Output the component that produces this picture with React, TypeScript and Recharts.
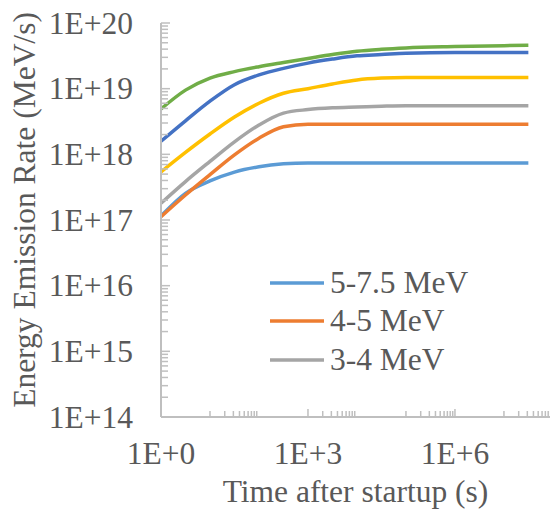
import { LineChart, Line, XAxis, YAxis, Legend, Label } from "recharts";

// time after startup (s)
const times = [1, 3.16, 10, 31.6, 100, 316, 1e3, 3.16e3, 1e4, 3.16e4, 1e5, 1e6, 1e7, 3.15e7];

// energy emission rate (MeV/s)
const mev5to75 = [1.15e17, 2.55e17, 3.94e17, 5.37e17, 6.46e17, 7.16e17, 7.4e17, 7.4e17, 7.4e17, 7.4e17, 7.4e17, 7.4e17, 7.4e17, 7.4e17];
const mev4to5 = [1.12e17, 2.4e17, 4.9e17, 9.8e17, 1.76e18, 2.63e18, 2.88e18, 2.88e18, 2.88e18, 2.88e18, 2.88e18, 2.88e18, 2.88e18, 2.88e18];
const mev3to4 = [1.8e17, 3.85e17, 7.8e17, 1.55e18, 2.8e18, 4.25e18, 4.8e18, 5.1e18, 5.25e18, 5.4e18, 5.5e18, 5.5e18, 5.5e18, 5.5e18];
const yellowSeries = [5.4e17, 1.07e18, 2.04e18, 3.7e18, 6.0e18, 8.5e18, 1.0e19, 1.18e19, 1.36e19, 1.45e19, 1.48e19, 1.48e19, 1.48e19, 1.48e19];
const darkBlueSeries = [1.58e18, 3.24e18, 6.46e18, 1.15e19, 1.62e19, 2.04e19, 2.45e19, 2.82e19, 3.16e19, 3.31e19, 3.47e19, 3.55e19, 3.55e19, 3.55e19];
const greenSeries = [4.9e18, 9.5e18, 1.45e19, 1.82e19, 2.16e19, 2.5e19, 2.88e19, 3.31e19, 3.72e19, 3.98e19, 4.17e19, 4.37e19, 4.52e19, 4.57e19];

const legendNames = ["5-7.5 MeV", "4-5 MeV", "3-4 MeV"];

// axis ticks: labelled decades plus Excel-style minor ticks
const xMajorTicks = [1, 1e3, 1e6];
const xMinorDecades = [1, 3, 5, 7];
const yMajorTicks = [1e14, 1e15, 1e16, 1e17, 1e18, 1e19, 1e20];

const xTicks = Array.from(new Set([
  ...xMajorTicks,
  ...xMinorDecades.flatMap(n => [1, 2, 3, 4, 5, 6, 7, 8, 9].map(k => k * 10 ** n)),
])).sort((a, b) => a - b);

const yTicks = [
  ...yMajorTicks,
  ...yMajorTicks.slice(0, -1).flatMap(d => [2, 3, 4, 5, 6, 7, 8, 9].map(k => k * d)),
].sort((a, b) => a - b);

const data = times.map((t, i) => ({
  t,
  a: mev5to75[i],
  b: mev4to5[i],
  c: mev3to4[i],
  d: yellowSeries[i],
  e: darkBlueSeries[i],
  f: greenSeries[i],
}));

const FONT = '"Liberation Serif", "Times New Roman", serif';
const FS = 31.5;
const TEXT = "#595959";
const AXIS = "#BFBFBF";

const isDecade = (v: number) => {
  const p = Math.log10(v);
  return Math.abs(p - Math.round(p)) < 1e-6;
};

const XTick = (props: any) => {
  const { x, y, payload } = props;
  const v = payload.value;
  const major = xMajorTicks.includes(v);
  return (
    <g>
      <line x1={x} x2={x} y1={y} y2={y - (major ? 8 : 6)} stroke={AXIS} strokeWidth={1.5} />
      {major && (
        <text x={x} y={y + 47} textAnchor="middle" fill={TEXT} fontFamily={FONT} fontSize={FS}>
          {`1E+${Math.round(Math.log10(v))}`}
        </text>
      )}
    </g>
  );
};

const YTick = (props: any) => {
  const { x, y, payload } = props;
  const v = payload.value;
  const major = isDecade(v);
  return (
    <g>
      <line x1={x} x2={x + (major ? 9 : 7)} y1={y} y2={y} stroke={AXIS} strokeWidth={1.5} />
      {major && (
        <text x={x - 28} y={y + 10.5} textAnchor="end" fill={TEXT} fontFamily={FONT} fontSize={FS}>
          {`1E+${Math.round(Math.log10(v))}`}
        </text>
      )}
    </g>
  );
};

const LegendBox = (props: any) => {
  const items = legendNames
    .map(n => (props.payload || []).find((p: any) => p.value === n))
    .filter(Boolean);
  return (
    <div style={{ fontFamily: FONT, fontSize: FS, color: TEXT }}>
      {items.map((p: any) => (
        <div key={p.value} style={{ display: "flex", alignItems: "center", height: 38.3, whiteSpace: "nowrap" }}>
          <svg width={54} height={6} style={{ marginRight: 6 }}>
            <line x1={0} x2={54} y1={3} y2={3} stroke={p.color} strokeWidth={3.5} />
          </svg>
          <span>{p.value}</span>
        </div>
      ))}
    </div>
  );
};

export default function App() {
  return (
    <div style={{ position: "absolute", left: 0, top: 0 }}>
      <LineChart width={550} height={509} data={data} margin={{ top: 23, right: 0, bottom: 0, left: 0 }}>
        <XAxis
          dataKey="t"
          type="number"
          scale="log"
          domain={[1, 10 ** 7.94]}
          allowDataOverflow
          ticks={xTicks}
          interval={0}
          tick={<XTick />}
          tickLine={false}
          tickSize={0}
          tickMargin={0}
          height={92}
          axisLine={{ stroke: AXIS, strokeWidth: 2 }}
        >
          <Label
            content={(p: any) => (
              <text
                x={p.viewBox.x + p.viewBox.width / 2}
                y={p.viewBox.y + 85}
                textAnchor="middle"
                fill={TEXT}
                fontFamily={FONT}
                fontSize={FS}
              >
                Time after startup (s)
              </text>
            )}
          />
        </XAxis>
        <YAxis
          type="number"
          scale="log"
          domain={[1e14, 1e20]}
          allowDataOverflow
          ticks={yTicks}
          interval={0}
          tick={<YTick />}
          tickLine={false}
          tickSize={0}
          tickMargin={0}
          width={161}
          axisLine={{ stroke: AXIS, strokeWidth: 2 }}
        >
          <Label
            content={(p: any) => {
              const cx = 35;
              const cy = p.viewBox.y + p.viewBox.height / 2 - 10;
              return (
                <text
                  x={cx}
                  y={cy}
                  transform={`rotate(-90, ${cx}, ${cy})`}
                  textAnchor="middle"
                  fill={TEXT}
                  fontFamily={FONT}
                  fontSize={FS}
                >
                  Energy Emission Rate (MeV/s)
                </text>
              );
            }}
          />
        </YAxis>
        <Legend
          layout="vertical"
          align="center"
          verticalAlign="middle"
          content={<LegendBox />}
          wrapperStyle={{ left: 270, top: 264, width: "auto" }}
        />
        <Line type="monotone" dataKey="a" name="5-7.5 MeV" stroke="#5B9BD5" strokeWidth={3.5} dot={false} isAnimationActive={false} />
        <Line type="monotone" dataKey="b" name="4-5 MeV" stroke="#ED7D31" strokeWidth={3.5} dot={false} isAnimationActive={false} />
        <Line type="monotone" dataKey="c" name="3-4 MeV" stroke="#A5A5A5" strokeWidth={3.5} dot={false} isAnimationActive={false} />
        <Line type="monotone" dataKey="d" stroke="#FFC000" strokeWidth={3.5} dot={false} legendType="none" isAnimationActive={false} />
        <Line type="monotone" dataKey="e" stroke="#4472C4" strokeWidth={3.5} dot={false} legendType="none" isAnimationActive={false} />
        <Line type="monotone" dataKey="f" stroke="#70AD47" strokeWidth={3.5} dot={false} legendType="none" isAnimationActive={false} />
      </LineChart>
    </div>
  );
}
